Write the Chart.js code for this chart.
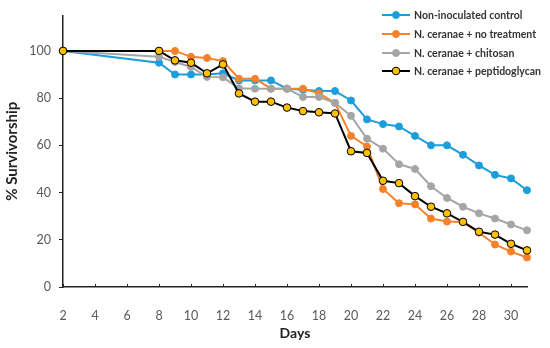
<!DOCTYPE html>
<html>
<head>
<meta charset="utf-8">
<script src="https://cdn.jsdelivr.net/npm/chart.js@4"></script>
<style>
  body { margin: 0; background: #fff; }
  #wrap { position: relative; width: 550px; height: 348px; }
  #legend { position: absolute; left: 382px; top: 6px; font: bold 10.5px Lato, sans-serif; color: #333; }
  .row { height: 18.7px; display: flex; align-items: center; }
  .row canvas { margin-right: 2px; }
</style>
</head>
<body>
<div id="wrap">
  <canvas id="survivalChart" width="550" height="348"></canvas>
  <div id="legend"></div>
</div>
<script>
// days where survival was recorded
const days = [2, 8, 9, 10, 11, 12, 13, 14, 15, 16, 17, 18, 19, 20, 21, 22, 23, 24, 25, 26, 27, 28, 29, 30, 31];

const control = [100, 95, 90, 90, 90, 90.5, 87.5, 87.5, 87.5, 84, 83.5, 83, 83, 79, 71, 69, 68, 64, 60, 60, 56, 51.5, 47.5, 46, 41];
const noTreatment = [100, 100, 100, 97.5, 97, 95.7, 88.2, 88.2, 84, 84, 84, 82, 78, 64, 59.5, 41.5, 35.5, 35, 29, 27.7, 27.5, 23, 18, 15, 12.5];
const chitosan = [100, 97.5, 95.3, 93.2, 89, 88.8, 84.2, 84, 84, 84, 80.5, 80.5, 78, 72.5, 62.8, 58.6, 52, 50, 42.7, 37.7, 34, 31.2, 29, 26.5, 24];
const peptidoglycan = [100, 100, 96, 95, 90.5, 94.3, 82, 78.5, 78.5, 76, 74.5, 74, 73.5, 57.5, 56.8, 45, 44, 38.5, 34, 31.2, 27.6, 23.4, 22.2, 18.3, 15.5];

const seriesNames = ['Non-inoculated control', 'N. ceranae + no treatment', 'N. ceranae + chitosan', 'N. ceranae + peptidoglycan'];
const xTicks = [2, 4, 6, 8, 10, 12, 14, 16, 18, 20, 22, 24, 26, 28, 30];
const yTicks = [0, 20, 40, 60, 80, 100];

const styles = [
    { line: '#1E9DDB', fill: '#1E9DDB', border: '#1E9DDB', r: 3.5 },
    { line: '#F5822A', fill: '#F5822A', border: '#F5822A', r: 3.5 },
    { line: '#A5A5A5', fill: '#A5A5A5', border: '#A5A5A5', r: 3.5 },
    { line: '#000000', fill: '#FFC000', border: '#000000', r: 3.8 }
];

function toPoints(values) {
    return values.map((v, i) => ({ x: days[i], y: v }));
}

const allSeries = [control, noTreatment, chitosan, peptidoglycan];

// later series drawn on top, like the original
const datasets = allSeries.map((values, i) => ({
    label: seriesNames[i],
    data: toPoints(values),
    order: allSeries.length - i,
    borderColor: styles[i].line,
    backgroundColor: styles[i].fill,
    pointBackgroundColor: styles[i].fill,
    pointBorderColor: styles[i].border,
    pointBorderWidth: 1,
    pointRadius: styles[i].r,
    borderWidth: 2,
    tension: 0,
    clip: false
}));

// small tick marks pointing into the plot on the x axis
const innerTicks = {
    id: 'innerTicks',
    afterDraw(chart) {
        const ctx = chart.ctx;
        const xs = chart.scales.x;
        const bottom = chart.chartArea.bottom;
        ctx.save();
        ctx.strokeStyle = '#222';
        ctx.lineWidth = 1;
        xTicks.forEach(t => {
            const px = Math.round(xs.getPixelForValue(t)) + 0.5;
            ctx.beginPath();
            ctx.moveTo(px, bottom);
            ctx.lineTo(px, bottom - 3);
            ctx.stroke();
        });
        ctx.restore();
    }
};

const tickFont = { family: 'Lato, sans-serif', size: 12.5 };

const ctx = document.getElementById('survivalChart').getContext('2d');
new Chart(ctx, {
    type: 'line',
    data: { datasets: datasets },
    options: {
        responsive: false,
        animation: false,
        layout: { padding: { top: 12, right: 23, left: 0, bottom: 0 } },
        plugins: { legend: { display: false }, tooltip: { enabled: false } },
        scales: {
            x: {
                type: 'linear',
                min: 2,
                max: 31,
                afterBuildTicks: scale => { scale.ticks = xTicks.map(v => ({ value: v })); },
                afterFit: scale => { scale.height = 61; },
                border: { color: '#222', width: 1.5 },
                grid: { display: false },
                ticks: { color: '#595959', font: tickFont, padding: 13, maxRotation: 0 },
                title: { display: true, text: 'Days', color: '#222', font: { family: 'Lato, sans-serif', size: 14, weight: 'bold' }, padding: { top: 0, bottom: 6 } }
            },
            y: {
                min: 0,
                max: 115,
                afterBuildTicks: scale => { scale.ticks = yTicks.map(v => ({ value: v })); },
                afterFit: scale => { scale.width = 63; },
                border: { color: '#222', width: 1.5 },
                grid: { drawOnChartArea: false, tickLength: 4, color: '#222' },
                ticks: { color: '#595959', font: tickFont, padding: 8 },
                title: { display: true, text: '% Survivorship', color: '#222', font: { family: 'Lato, sans-serif', size: 15, weight: 'bold' }, padding: { top: 3, bottom: 0 } }
            }
        }
    },
    plugins: [innerTicks]
});

// legend: line with marker, then label
const legendEl = document.getElementById('legend');
seriesNames.forEach((name, i) => {
    const row = document.createElement('div');
    row.className = 'row';
    const c = document.createElement('canvas');
    c.width = 30; c.height = 12;
    const g = c.getContext('2d');
    g.strokeStyle = styles[i].line;
    g.lineWidth = 2;
    g.beginPath(); g.moveTo(0, 6); g.lineTo(28, 6); g.stroke();
    g.fillStyle = styles[i].fill;
    g.strokeStyle = styles[i].border;
    g.lineWidth = 1;
    g.beginPath(); g.arc(14, 6, styles[i].r, 0, Math.PI * 2); g.fill(); g.stroke();
    row.appendChild(c);
    const span = document.createElement('span');
    span.textContent = name;
    row.appendChild(span);
    legendEl.appendChild(row);
});
</script>
</body>
</html>
